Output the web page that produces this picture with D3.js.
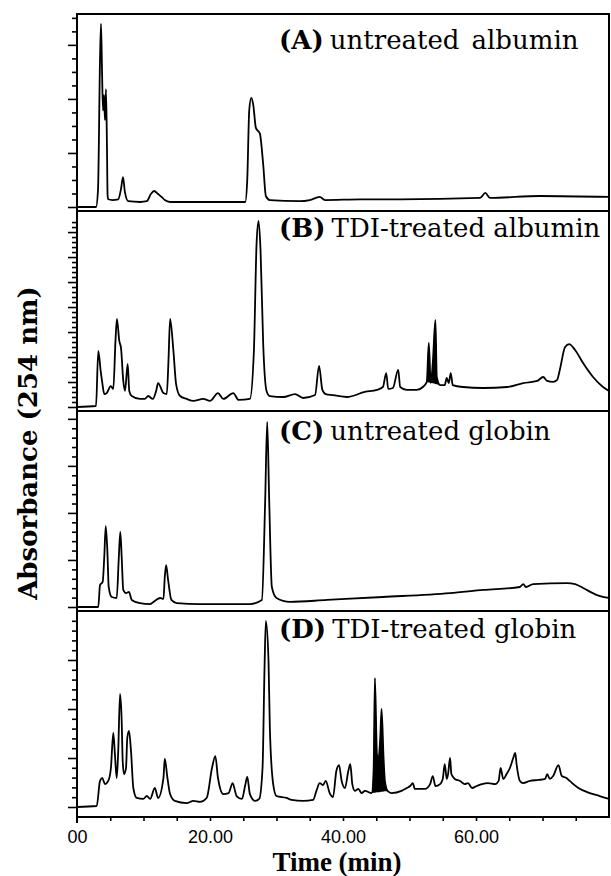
<!DOCTYPE html>
<meta charset="utf-8">
<html>
<head>
<script src="https://d3js.org/d3.v7.min.js"></script>
<style>
  body { margin: 0; background: white; }
  .trace { fill: none; stroke: black; stroke-width: 1.8px; stroke-linejoin: round; }
  .peakfill { fill: black; stroke: none; }
  .frame { fill: none; stroke: black; stroke-width: 2px; }
  .axis path { display: none; }
  .axis line { stroke: black; stroke-width: 1.6px; }
  .xlab text { font-family: "Liberation Sans", Arial, sans-serif; font-size: 18px; fill: black; }
  .plabel { font-family: "DejaVu Serif", serif; font-size: 26px; }
  .title { font-family: "Liberation Serif", serif; font-weight: bold; }
</style>
</head>
<body>
<svg id="chart"></svg>
<script>
// chromatograms, [time (min), relative absorbance 0-100 of panel height]
var traceA = [[0,0],[2.86,0],[3.16,9],[3.46,76],[3.61,95],[3.76,71],[3.91,50],[4.06,58],[4.21,45],[4.36,61],[4.51,30],[4.6,6],[4.7,4],[5.3,3.6],[6.2,4],[6.6,9],[6.92,15.5],[7.2,7.8],[7.7,3],[9.5,2.6],[10.5,3],[11.1,6.7],[11.6,8.3],[12.2,6.7],[12.8,5],[13.2,3.6],[14,2.6],[18.5,2.6],[25.3,2.6],[25.6,14],[25.9,50],[26.2,56.5],[26.5,53],[26.9,41],[27.5,38],[28.0,22],[28.4,5.7],[29,3.6],[33.5,3],[35,3.6],[36.5,5.2],[37.3,3.6],[42.6,4],[48.6,4],[60.6,4.7],[61.4,7.3],[62.1,4.7],[69.6,5.7],[80,5.2]];

var traceB = [[0,0],[2.86,0.5],[3.2,28.6],[3.56,18.4],[3.83,11.7],[4.1,6.6],[4.47,7.1],[5.07,10.7],[5.46,9.2],[5.79,34],[6.0,45],[6.36,33.7],[6.62,30],[6.96,13.3],[7.22,8.2],[7.62,22],[7.86,8.2],[8.23,5.6],[9.47,4.1],[10.2,4.1],[10.7,5.6],[11.4,4.1],[11.9,8.2],[12.2,12.2],[13.0,7.1],[13.5,6.6],[13.76,24],[14.0,45],[14.5,28.6],[14.9,11.7],[15.5,5.6],[16.5,4.1],[17.5,3.1],[19.0,4.1],[20.0,3.1],[21.2,7.1],[22.0,4.1],[23.5,7.1],[24.3,3.6],[26.0,4.1],[26.6,28.6],[27.0,83],[27.3,95],[27.6,80],[28.0,32],[28.5,8.2],[29.0,5.6],[31.0,5.1],[32.8,6.6],[34.0,4.6],[35.8,6.1],[36.4,21],[36.9,8.7],[37.4,6.6],[38.5,6.1],[40.6,5.1],[43.3,7.7],[45.1,8.7],[46.0,10.2],[46.5,17.3],[46.8,9.2],[47.5,9.7],[48.3,18.9],[48.6,10.2],[49.6,8.7],[51.1,8.7],[52.0,10.2],[52.6,12.8],[52.9,32.7],[53.2,12.2],[53.5,22.4],[53.9,44.4],[54.1,15.3],[54.6,11.2],[55.3,11.2],[55.6,14.8],[55.9,12.2],[56.2,17.3],[56.5,11.2],[58.0,10.2],[61.1,9.7],[64.7,10.2],[67.1,12.2],[69.2,13.3],[70.1,15.3],[70.7,13.3],[71.6,12.8],[72.2,13.8],[72.6,18.9],[73.4,30.6],[74.0,32.1],[74.9,29.1],[76.1,22.4],[77.6,15.3],[79.1,10.2],[80,8.2]];

var traceC = [[0,0],[3.2,0],[3.46,11.2],[3.86,12.8],[4.1,25.5],[4.32,41.3],[4.56,29],[4.77,10.2],[5.22,5.1],[5.97,4.6],[6.27,24],[6.51,38.3],[6.72,25.5],[6.96,8.7],[7.37,7.1],[7.82,7.7],[8.23,3.6],[9.47,2],[10.98,1.5],[11.7,3.1],[12.5,4.6],[13.0,4.1],[13.2,15.3],[13.4,21.4],[13.7,13.8],[14.2,3.6],[15.0,2],[18.5,1.5],[26.0,1.5],[27.8,3.6],[28.3,54.6],[28.6,94.4],[28.9,54.6],[29.3,10.2],[30.0,4.6],[32.0,2.6],[37.6,3.6],[46.0,5.1],[56.1,7.1],[61.1,8.7],[66.6,10.2],[67.1,11.7],[67.5,10.2],[68.6,11.7],[73.7,12.2],[74.9,11.7],[76.1,9.7],[78.2,6.1],[80,4.6]];

var traceD = [[0,0],[2.96,0.5],[3.46,13.3],[3.8,14.8],[4.2,11.7],[4.7,13.3],[5.1,19.9],[5.46,37.8],[5.7,27],[5.97,14.8],[6.2,28.6],[6.47,57.7],[6.72,43.9],[6.87,23.5],[7.07,16.8],[7.37,19.9],[7.56,35.2],[7.82,38.8],[8.12,28.6],[8.47,9.7],[8.98,4.6],[9.97,4.1],[10.5,5.6],[11.0,4.1],[11.7,9.7],[12.2,4.6],[13.0,14.8],[13.2,24.5],[13.6,14.8],[14.0,6.6],[14.7,3.1],[16.5,2],[17.5,3.1],[18.5,2.6],[19.5,4.6],[20.3,19.9],[20.8,26],[21.2,14.8],[22.0,6.6],[22.8,7.1],[23.4,12.2],[24.0,5.6],[24.8,4.1],[25.3,11.2],[25.6,15.3],[26.0,6.6],[26.8,3.1],[27.4,4.1],[27.9,19.9],[28.2,71],[28.4,95],[28.8,74.5],[29.0,40.3],[29.5,11.7],[30.0,5.6],[31.5,4.6],[32.3,3.6],[34.0,3.1],[35.5,3.6],[36.0,8.2],[36.5,12.2],[37.0,11.2],[37.4,13.3],[38.0,7.1],[38.5,5.1],[39.0,18.4],[39.4,21.4],[39.8,13.3],[40.3,9.7],[40.8,18.4],[41.1,21.9],[41.4,11.7],[41.8,8.2],[42.3,9.2],[42.8,7.1],[43.3,8.2],[44.3,7.1],[44.6,18.4],[44.8,65.8],[45.1,27],[45.3,24],[45.6,35.2],[45.8,50],[46.1,25],[46.3,13.3],[46.7,8.2],[47.3,7.1],[48.8,8.2],[49.6,9.7],[50.1,10.7],[50.5,12.2],[50.8,9.2],[52.3,9.2],[53.1,11.7],[53.5,15.8],[53.9,10.7],[54.6,11.7],[55.0,14.3],[55.3,21.9],[55.6,14.3],[55.8,16.8],[56.1,25],[56.3,16.8],[56.8,14.3],[57.6,13.3],[58.3,11.7],[58.8,12.2],[59.4,9.7],[60.1,10.7],[60.9,11.7],[61.8,12.2],[62.9,11.7],[63.4,13.3],[63.7,19.9],[64.1,14.3],[64.6,16.8],[65.1,19.9],[65.6,25],[65.9,27.6],[66.1,21.9],[66.6,13.3],[67.1,12.2],[68.1,13.3],[69.4,13.8],[70.4,14.3],[70.7,16.8],[71.1,14.3],[71.6,15.8],[72.4,21.4],[72.9,15.8],[73.6,14.8],[74.1,13.3],[75.4,9.7],[77.1,7.1],[78.6,5.6],[80,4.1]];

var panelTags = ["(A)", "(B)", "(C)", "(D)"];
var panelTitles = ["untreated", "TDI-treated albumin", "untreated globin", "TDI-treated globin"];
// shaded (black) peak ranges, min
var fillRanges = [null, [52.6, 54.6], null, [44.3, 46.7]];
var timeTicks = [0, 20, 40, 60];
var timeTickLabels = ["00", "20.00", "40.00", "60.00"];
var traces = [traceA, traceB, traceC, traceD];

// layout
var W = 611, H = 876;
var left = 77, right = 609;
var tops = [14, 211, 411, 611], bottoms = [211, 411, 611, 817], baseOff = [4, 4, 4, 10];
var tickStep = [7, 2.55, 4.8, 5], majorEvery = [4, 5, 5, 5], tickMax = [99, 96, 97, 96];
var labelY = [49, 237, 440, 638];

var svg = d3.select("#chart").attr("width", W).attr("height", H);

var x = d3.scaleLinear().domain([0, 80]).range([left, right]);

traces.forEach(function(data, i) {
  var y = d3.scaleLinear().domain([0, 100]).range([bottoms[i] - baseOff[i], tops[i]]);

  var line = d3.line()
    .x(function(d) { return x(d[0]); })
    .y(function(d) { return y(d[1]); })
    .curve(d3.curveMonotoneX);

  // black filled peaks
  var fr = fillRanges[i];
  if (fr) {
    var seg = data.filter(function(d) { return d[0] >= fr[0] && d[0] <= fr[1]; });
    var v0 = seg[0][1], v1 = seg[seg.length - 1][1];
    var area = d3.area()
      .x(function(d) { return x(d[0]); })
      .y0(function(d) { return y(v0 + (v1 - v0) * (d[0] - fr[0]) / (fr[1] - fr[0])); })
      .y1(function(d) { return y(d[1]); })
      .curve(d3.curveMonotoneX);
    svg.append("path").datum(seg).attr("class", "peakfill").attr("d", area);
  }

  svg.append("path").datum(data).attr("class", "trace").attr("d", line);

  // y ticks (unlabelled)
  var vals = d3.range(0, tickMax[i], tickStep[i]);
  var minor = vals.filter(function(d, k) { return k % majorEvery[i] != 0; });
  var major = vals.filter(function(d, k) { return k % majorEvery[i] == 0; });
  svg.append("g").attr("class", "axis").attr("transform", "translate(" + left + ",0)")
    .call(d3.axisLeft(y).tickValues(minor).tickSize(5).tickFormat(""));
  svg.append("g").attr("class", "axis").attr("transform", "translate(" + left + ",0)")
    .call(d3.axisLeft(y).tickValues(major).tickSize(9).tickFormat(""));

  // panel label
  var t = svg.append("text").attr("class", "plabel").attr("x", 279).attr("y", labelY[i]);
  t.append("tspan").attr("font-weight", "bold").text(panelTags[i]);
  t.append("tspan").attr("dx", 6).text(panelTitles[i]);
  if (i == 0) t.append("tspan").attr("dx", 12).text("albumin");

  // separator
  if (i > 0) {
    svg.append("line").attr("class", "frame")
      .attr("x1", left).attr("x2", right).attr("y1", tops[i]).attr("y2", tops[i]);
  }
});

// outer frame
svg.append("rect").attr("class", "frame")
  .attr("x", left).attr("y", tops[0])
  .attr("width", right - left).attr("height", bottoms[3] - tops[0]);
svg.append("line").attr("class", "frame")
  .attr("x1", left).attr("x2", left).attr("y1", bottoms[3]).attr("y2", bottoms[3] + 6);

// time axis
svg.append("g").attr("class", "axis").attr("transform", "translate(0," + bottoms[3] + ")")
  .call(d3.axisBottom(x).tickValues(d3.range(5, 80, 5)).tickSize(4).tickFormat(""));
svg.append("g").attr("class", "axis xlab").attr("transform", "translate(0," + bottoms[3] + ")")
  .call(d3.axisBottom(x).tickValues(timeTicks).tickSize(0).tickPadding(13)
    .tickFormat(function(d, k) { return timeTickLabels[k]; }));

// axis titles
svg.append("text").attr("class", "title")
  .attr("x", 337).attr("y", 871)
  .attr("text-anchor", "middle")
  .style("font-size", "27px")
  .text("Time (min)");

svg.append("text")
  .attr("transform", "translate(37,443)rotate(-90)")
  .attr("text-anchor", "middle")
  .style("font-family", "'DejaVu Serif', serif")
  .style("font-weight", "bold")
  .style("font-size", "26px")
  .text("Absorbance (254 nm)");
</script>
</body>
</html>
